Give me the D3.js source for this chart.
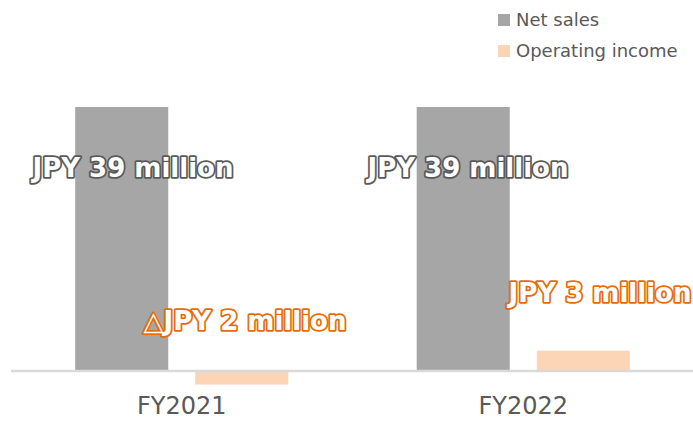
<!DOCTYPE html>
<head>
<meta charset="utf-8">
<style>
body, html {
  margin: 0;
  padding: 0;
  background: #fff;
  font-family: "DejaVu Sans", Verdana, sans-serif;
}
.axis-line {
  stroke: #d9d9d9;
  stroke-width: 2.5px;
}
.legend-text {
  fill: #595959;
  font-size: 18px;
}
.val-label {
  font-size: 26px;
  font-weight: bold;
  fill: #fff;
  stroke-width: 3.6px;
  stroke-linejoin: round;
  paint-order: stroke;
}
</style>
<script src="https://d3js.org/d3.v7.min.js"></script>
</head>
<body>
<div id="chart"></div>
<script>

// data
var categories = ["FY2021", "FY2022"];
var seriesNames = ["Net sales", "Operating income"];
var netSales = [39, 39];
var operatingIncome = [-2, 3];
var netLabels = ["JPY 39 million", "JPY 39 million"];
var opLabels = ["\u25B3JPY 2 million", "JPY 3 million"];

var colors = ["#a6a6a6", "#fbd5b5"];
var labelStroke = ["#595959", "#e46c0a"];

var width = 693,
    height = 427;

var svg = d3.select("#chart").append("svg")
    .attr("width", width)
    .attr("height", height);

//--------------------------------------
var x0 = d3.scaleBand()
    .domain(categories)
    .range([11, 694])
    .paddingInner(0.376)
    .paddingOuter(0.188);

var x1 = d3.scaleBand()
    .domain(seriesNames)
    .range([0, x0.bandwidth()])
    .paddingInner(0.225);

var y = d3.scaleLinear()
    .domain([0, 39])
    .range([371, 107]);

var rows = categories.map(function(c, i) {
  return {cat: c, values: [netSales[i], operatingIncome[i]]};
});

// bars
var groups = svg.selectAll("g.cat")
    .data(rows)
  .enter().append("g")
    .attr("class", "cat")
    .attr("transform", function(d) { return "translate(" + x0(d.cat) + ",0)"; });

groups.selectAll("rect")
    .data(function(d) { return d.values.map(function(v, j) { return {s: seriesNames[j], v: v, j: j}; }); })
  .enter().append("rect")
    .attr("x", function(d) { return x1(d.s); })
    .attr("width", x1.bandwidth())
    .attr("y", function(d) { return y(Math.max(0, d.v)); })
    .attr("height", function(d) { return Math.abs(y(d.v) - y(0)); })
    .attr("fill", function(d) { return colors[d.j]; });

// baseline
svg.append("line")
    .attr("class", "axis-line")
    .attr("x1", 11)
    .attr("x2", width)
    .attr("y1", y(0))
    .attr("y2", y(0));

// category labels
var xAxis = d3.axisBottom(x0).tickSize(0).tickPadding(0);
var ax = svg.append("g")
    .attr("transform", "translate(0," + 397 + ")")
    .call(xAxis);
ax.select(".domain").remove();
ax.selectAll("text")
    .attr("dy", "0.71em")
    .style("font-family", "DejaVu Sans, sans-serif")
    .style("font-size", "24px")
    .attr("fill", "#595959");

// value labels (placed by hand, as in the original slide)
var netPos = [[133, 177], [468, 177]];
svg.selectAll("text.net")
    .data(categories)
  .enter().append("text")
    .attr("class", "val-label net")
    .attr("text-anchor", "middle")
    .attr("x", function(d, i) { return netPos[i][0]; })
    .attr("y", function(d, i) { return netPos[i][1]; })
    .attr("stroke", labelStroke[0])
    .text(function(d, i) { return netLabels[i]; });

var opPos = [[245, 330], [600, 302]];
svg.selectAll("text.op")
    .data(categories)
  .enter().append("text")
    .attr("class", "val-label op")
    .attr("text-anchor", "middle")
    .attr("x", function(d, i) { return opPos[i][0]; })
    .attr("y", function(d, i) { return opPos[i][1]; })
    .attr("stroke", labelStroke[1])
    .text(function(d, i) { return opLabels[i]; });

// legend
var legend = svg.selectAll("g.legend")
    .data(seriesNames)
  .enter().append("g")
    .attr("class", "legend")
    .attr("transform", function(d, i) { return "translate(498," + (14 + i * 31) + ")"; });

legend.append("rect")
    .attr("width", 12)
    .attr("height", 12)
    .attr("fill", function(d, i) { return colors[i]; });

legend.append("text")
    .attr("class", "legend-text")
    .attr("x", 18)
    .attr("y", 12)
    .text(function(d) { return d; });

</script>
</body>
